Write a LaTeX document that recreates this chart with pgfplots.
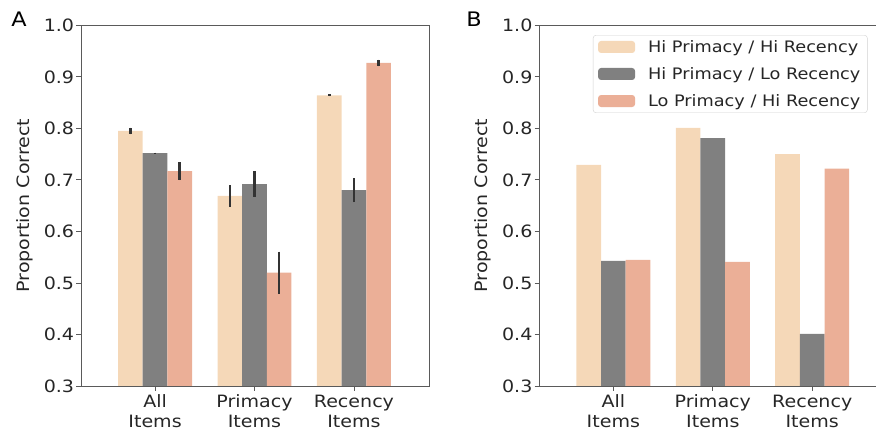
\documentclass[border=0pt]{standalone}
\usepackage{pgfplots}
\pgfplotsset{compat=1.18}
\usepackage{fontspec}
\setmainfont{DejaVu Sans}[FakeStretch=1.12]
\definecolor{cLight}{RGB}{245,216,184}
\definecolor{cGray}{RGB}{128,128,128}
\definecolor{cSalmon}{RGB}{235,175,151}
\definecolor{spine}{RGB}{90,90,90}
\definecolor{txt}{RGB}{38,38,38}
\newcommand{\fs}{\fontsize{17}{20}\selectfont}
\newcommand{\fl}{\fontsize{15.8}{19}\selectfont}
\pgfplotsset{
  myax/.style={
    scale only axis, width=348pt, height=360.7pt,
    xmin=-0.745, xmax=2.755, ymin=0.3, ymax=1.0,
    ytick={0.3,0.4,...,1.0},
    yticklabel style={/pgf/number format/fixed,/pgf/number format/fixed zerofill,/pgf/number format/precision=1},
    /pgf/number format/assume math mode=true,
    xtick={0,1,2},
    xticklabels={All\\Items, Primacy\\Items, Recency\\Items},
    xticklabel style={align=center, font=\fs, text=txt, inner sep=0pt, yshift=-4pt},
    yticklabel style={font=\fs, text=txt, inner sep=2pt},
    tick style={spine, line width=0.8pt},
    tick align=outside, major tick length=4.7pt,
    xtick pos=bottom, ytick pos=left,
    axis line style={spine, line width=0.9pt},
    ylabel={Proportion Correct},
    every axis y label/.style={at={(axis description cs:-0.162,0.5)}, rotate=90, anchor=center, font=\fs, text=txt},
    ybar, bar shift=0pt, bar width=0.248,
    every axis plot/.append style={draw=none},
    error bars/y dir=both, error bars/y explicit,
    error bars/error mark=none,
    error bars/error bar style={line width=2.6pt, color=black!80},
  }
}
\begin{document}
\begin{tikzpicture}[x=1pt,y=1pt]
\useasboundingbox (0,0) rectangle (876,434);
% Panel A
\begin{axis}[myax, at={(81pt,48pt)}, anchor=south west]
\addplot[fill=cLight] coordinates {(-0.248,0.795) +- (0,0.0065) (0.752,0.669) +- (0,0.021) (1.752,0.864) +- (0,0.002)};
\addplot[fill=cGray] coordinates {(0,0.752) +- (0,0.001) (1,0.692) +- (0,0.025) (2,0.680) +- (0,0.023)};
\addplot[fill=cSalmon] coordinates {(0.248,0.717) +- (0,0.0175) (1.248,0.520) +- (0,0.041) (2.248,0.927) +- (0,0.0065)};
\end{axis}
\node[font=\fontsize{20}{24}\selectfont, anchor=center] at (19,415) {A};
% Panel B
\begin{axis}[myax, at={(539.3pt,48pt)}, anchor=south west,
  legend cell align=left,
  legend image code/.code={\fill[#1] (0pt,-6pt) rectangle (37pt,6pt);},
  legend style={at={(axis description cs:0.154,0.973)}, anchor=north west,
    draw=black!18, rounded corners=3pt, fill=white,
    font=\fl, text=txt,
    inner xsep=5pt, inner ysep=3pt, row sep=9.5pt, column sep=11pt,
    nodes={inner sep=2pt}},
  error bars/y dir=none]
\addplot[fill=cLight] coordinates {(-0.248,0.729) (0.752,0.801) (1.752,0.750)};
\addlegendentry{Hi Primacy / Hi Recency}
\addplot[fill=cGray] coordinates {(0,0.543) (1,0.781) (2,0.401)};
\addlegendentry{Hi Primacy / Lo Recency}
\addplot[fill=cSalmon] coordinates {(0.248,0.545) (1.248,0.541) (2.248,0.722)};
\addlegendentry{Lo Primacy / Hi Recency}
\end{axis}
\node[font=\fontsize{20}{24}\selectfont, anchor=center] at (474,415) {B};
\end{tikzpicture}
\end{document}
